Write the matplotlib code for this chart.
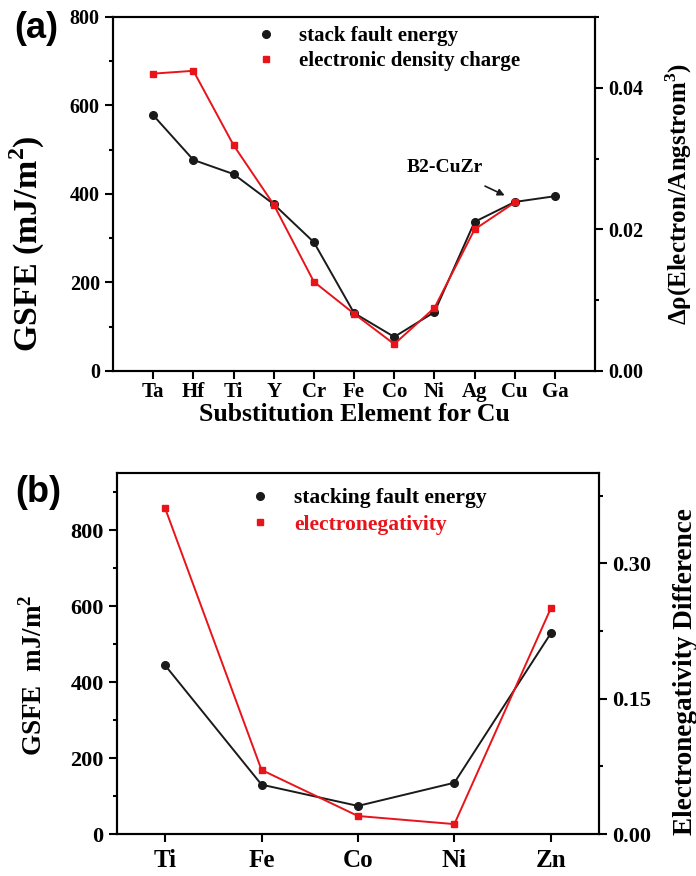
import numpy as np
import matplotlib
matplotlib.use("Agg")
import matplotlib.pyplot as plt
from matplotlib.ticker import MultipleLocator, FormatStrFormatter

plt.rcParams['font.family'] = ['Liberation Serif', 'DejaVu Serif']
plt.rcParams['font.weight'] = 'bold'
plt.rcParams['axes.labelweight'] = 'bold'
plt.rcParams['mathtext.fontset'] = 'custom'
plt.rcParams['mathtext.rm'] = 'Liberation Serif:bold'
plt.rcParams['mathtext.bf'] = 'Liberation Serif:bold'

# panel (a) data
elems_a = ['Ta', 'Hf', 'Ti', 'Y', 'Cr', 'Fe', 'Co', 'Ni', 'Ag', 'Cu', 'Ga']
gsfe_a = [578, 477, 445, 377, 291, 131, 77, 133, 337, 382, 395]
rho_a = [0.0420, 0.0424, 0.0319, 0.0235, 0.0126, 0.0081, 0.0038, 0.0089, 0.0200, 0.0238]

# panel (b) data
elems_b = ['Ti', 'Fe', 'Co', 'Ni', 'Zn']
gsfe_b = [444, 130, 74, 135, 528]
eneg_b = [0.361, 0.071, 0.020, 0.011, 0.250]

RED = '#e8141a'
BLK = '#1a1a1a'

fig = plt.figure(figsize=(6.96, 8.76), dpi=100)


def style_ax(ax, size):
    for s in ax.spines.values():
        s.set_linewidth(1.5)
    ax.tick_params(which='both', direction='out', width=1.5, labelsize=size)
    ax.tick_params(which='major', length=6)
    ax.tick_params(which='minor', length=3)


# ---------- (a) ----------
ax1 = fig.add_axes([0.1624, 0.5765, 0.6926, 0.4041])
xa = np.arange(1, len(elems_a) + 1)
ax1.plot(xa, gsfe_a, '-o', color=BLK, lw=1.4, ms=5.5, zorder=3)
ax1.set_xlim(0, 12)
ax1.set_ylim(0, 800)
ax1.set_xticks(xa)
ax1.set_xticklabels(elems_a)
ax1.yaxis.set_major_locator(MultipleLocator(200))
ax1.yaxis.set_minor_locator(MultipleLocator(100))
style_ax(ax1, 14.5)
ax1.tick_params(axis='x', labelsize=15, pad=2)
ax1.set_ylabel('GSFE (mJ/m$^2$)', fontsize=24.5)
ax1.yaxis.set_label_coords(-0.137, 0.36)
ax1.set_xlabel('Substitution Element for Cu', fontsize=18.5, labelpad=1)

ax1r = ax1.twinx()
ax1r.plot(xa[:len(rho_a)], rho_a, '-s', color=RED, lw=1.4, ms=5)
ax1r.set_ylim(0, 0.05)
ax1r.yaxis.set_major_locator(MultipleLocator(0.02))
ax1r.yaxis.set_minor_locator(MultipleLocator(0.01))
ax1r.yaxis.set_major_formatter(FormatStrFormatter('%.2f'))
style_ax(ax1r, 14.5)
ax1r.set_ylabel('Δρ(Electron/Angstrom$^3$)', fontsize=18)
ax1r.yaxis.set_label_coords(1.142, 0.5)

ax1r.annotate('B2-CuZr', xy=(9.75, 0.0248), xytext=(8.26, 0.0288),
              ha='center', va='center', fontsize=14,
              arrowprops=dict(arrowstyle='-|>', color=BLK, lw=1.2,
                              shrinkA=13, shrinkB=0, mutation_scale=10))

ax1.plot([], [], 'o', color=BLK, ms=5.5, label='stack fault energy')
ax1.plot([], [], 's', color=RED, ms=5, label='electronic density charge')
ax1.legend(loc='upper left', bbox_to_anchor=(0.247, 1.028), frameon=False,
           fontsize=15, handletextpad=0.8, labelspacing=0.25, handlelength=1.5)

fig.text(0.02, 0.968, '(a)', family='Liberation Sans', fontsize=26,
         weight='bold', va='center')

# ---------- (b) ----------
ax2 = fig.add_axes([0.168, 0.0479, 0.6926, 0.4121])
xb = np.arange(1, len(elems_b) + 1)
ax2.plot(xb, gsfe_b, '-o', color=BLK, lw=1.4, ms=5.5, zorder=3)
ax2.set_xlim(0.5, 5.5)
ax2.set_ylim(0, 950)
ax2.set_xticks(xb)
ax2.set_xticklabels(elems_b)
ax2.yaxis.set_major_locator(MultipleLocator(200))
ax2.yaxis.set_minor_locator(MultipleLocator(100))
style_ax(ax2, 16)
ax2.tick_params(axis='x', labelsize=18, pad=5)
ax2.set_ylabel('GSFE  mJ/m$^2$', fontsize=19.5)
ax2.yaxis.set_label_coords(-0.143, 0.44)

ax2r = ax2.twinx()
ax2r.plot(xb, eneg_b, '-s', color=RED, lw=1.4, ms=5)
ax2r.set_ylim(0, 0.40)
ax2r.yaxis.set_major_locator(MultipleLocator(0.15))
ax2r.yaxis.set_minor_locator(MultipleLocator(0.075))
ax2r.yaxis.set_major_formatter(FormatStrFormatter('%.2f'))
style_ax(ax2r, 16)
ax2r.set_ylabel('Electronegativity Difference', fontsize=19.6)
ax2r.yaxis.set_label_coords(1.153, 0.45)

ax2.plot([], [], 'o', color=BLK, ms=5.5, label='stacking fault energy')
ax2.plot([], [], 's', color=RED, ms=5, label='electronegativity')
leg = ax2.legend(loc='upper left', bbox_to_anchor=(0.224, 1.012), frameon=False,
                 fontsize=15.5, handletextpad=0.8, labelspacing=0.3,
                 handlelength=1.5)
leg.get_texts()[1].set_color(RED)

fig.text(0.022, 0.438, '(b)', family='Liberation Sans', fontsize=26,
         weight='bold', va='center')

fig.savefig('out.png', dpi=100)
